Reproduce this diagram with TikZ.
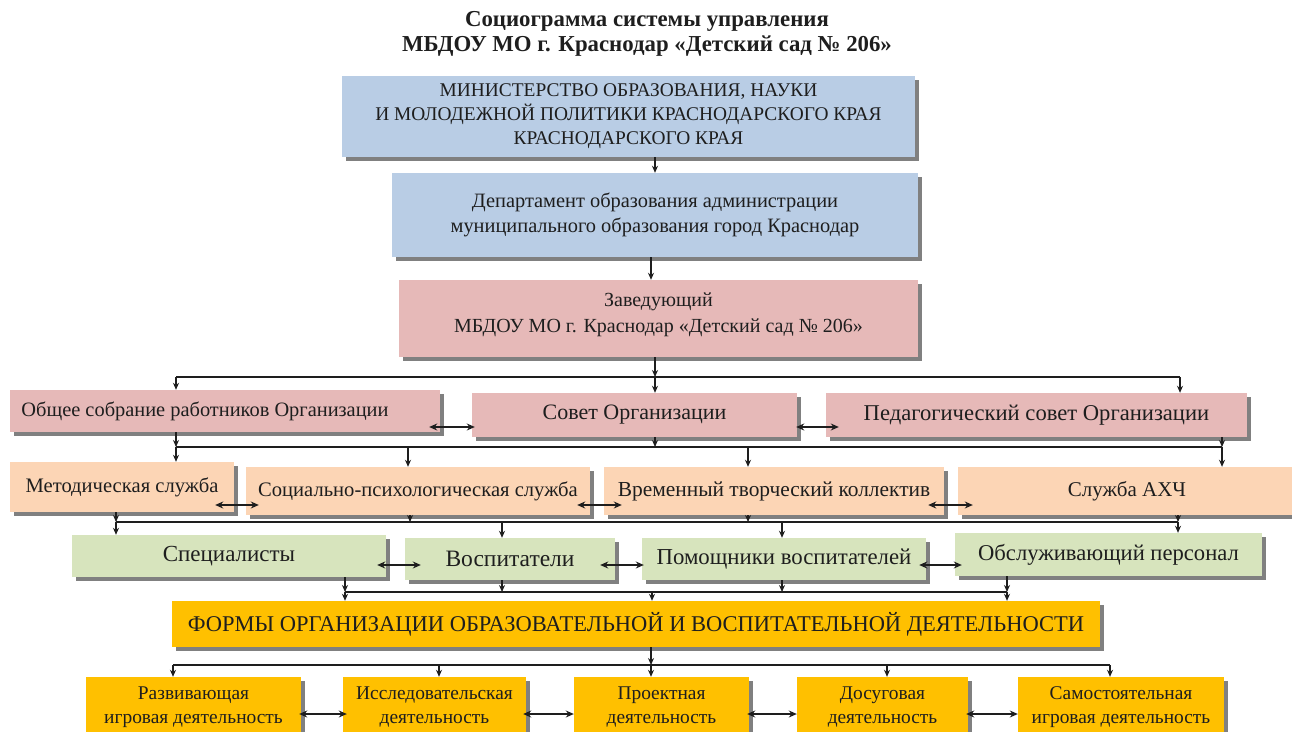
\documentclass[tikz,border=0pt]{standalone}
\usepackage{fontspec}
\setmainfont{Liberation Serif}
\usetikzlibrary{arrows.meta,shadows}
\definecolor{cblue}{HTML}{B9CDE5}
\definecolor{cpink}{HTML}{E6B9B8}
\definecolor{cpeach}{HTML}{FCD5B5}
\definecolor{cgreen}{HTML}{D7E4BD}
\definecolor{corange}{HTML}{FFC000}
\definecolor{ctext}{HTML}{1E1E1E}
\newcommand\fs[2]{\fontsize{#1}{#2}\selectfont}
\tikzset{
  box/.style={inner sep=0pt, align=center, text=ctext,
    drop shadow={shadow xshift=4pt,shadow yshift=-4pt,fill=black!50,opacity=1}},
  bluebox/.style={box, fill=cblue},
  pinkbox/.style={box, fill=cpink},
  peachbox/.style={box, fill=cpeach},
  greenbox/.style={box, fill=cgreen},
  orangebox/.style={box, fill=corange},
  conn/.style={line width=1.3pt, draw=ctext},
  arr/.style={conn, -{Stealth[length=7pt,width=6pt]}},
  dbl/.style={conn, {Stealth[length=8pt,width=7pt]}-{Stealth[length=8pt,width=7pt]}},
}
\newcommand\bx[7]{\node[#6, minimum width={#4pt-#2pt}, minimum height={#5pt-#3pt}] (#1) at ({(#2+#4)/2},{(#3+#5)/2}) {#7};}
\begin{document}
\begin{tikzpicture}[x=1pt,y=-1pt]
\useasboundingbox (0,0) rectangle (1292,731);
\node[align=center, font=\bfseries\fs{22.8}{25}, text=ctext] (title) at (647,34)
  {Социограмма системы управления\\МБДОУ МО г. Краснодар «Детский сад № 206»};
% level 1-3
\bx{min}{342}{76}{915}{157}{bluebox,font=\fs{19.4}{24}}{МИНИСТЕРСТВО ОБРАЗОВАНИЯ, НАУКИ\\И МОЛОДЕЖНОЙ ПОЛИТИКИ КРАСНОДАРСКОГО КРАЯ\\КРАСНОДАРСКОГО КРАЯ}
\bx{dep}{392}{173}{918}{257}{bluebox,font=\fs{20.4}{25}}{Департамент образования администрации\\муниципального образования город Краснодар}
\node[pinkbox, minimum width=519pt, minimum height=77pt] (zav) at (658.5,318.5) {};
\node[align=center, font=\fs{20}{26}, text=ctext, inner sep=0pt] (zavt) at (zav.center) [yshift=4pt] {Заведующий\\МБДОУ МО г. Краснодар «Детский сад № 206»};
% row 2
\bx{ob}{10}{390}{440}{432}{pinkbox,font=\fs{20.4}{24}}{Общее собрание работников Организации\hspace*{40pt}}
\bx{sov}{472}{393}{797}{437}{pinkbox,font=\fs{22}{24}}{Совет Организации}
\bx{ped}{826}{393}{1247}{437}{pinkbox,font=\fs{22.6}{24}}{Педагогический совет Организации}
% row 3
\bx{met}{10}{462}{234}{512}{peachbox,font=\fs{20.6}{24}}{Методическая служба}
\bx{soc}{246}{467}{590}{515}{peachbox,font=\fs{20.6}{24}}{Социально-психологическая служба}
\bx{vr}{604}{467}{944}{515}{peachbox,font=\fs{21.4}{24}}{Временный творческий коллектив}
\bx{axch}{958}{467}{1296}{515}{peachbox,font=\fs{21}{24}}{Служба АХЧ}
% row 4
\bx{spec}{72}{535}{386}{577}{greenbox,font=\fs{23}{24}}{Специалисты}
\bx{vosp}{405}{538}{615}{580}{greenbox,font=\fs{23.5}{24}}{Воспитатели}
\bx{pom}{642}{538}{926}{580}{greenbox,font=\fs{22.8}{24}}{Помощники воспитателей}
\bx{obs}{955}{533}{1262}{576}{greenbox,font=\fs{22.6}{24}}{Обслуживающий персонал}
% row 5
\bx{forms}{172}{601}{1100}{647}{orangebox,font=\fs{22.5}{24}}{ФОРМЫ ОРГАНИЗАЦИИ ОБРАЗОВАТЕЛЬНОЙ И ВОСПИТАТЕЛЬНОЙ ДЕЯТЕЛЬНОСТИ}
% row 6
\bx{raz}{86}{677}{301}{738}{orangebox,font=\fs{19.4}{24}}{Развивающая\\игровая деятельность}
\bx{isl}{343}{677}{526}{738}{orangebox,font=\fs{19.4}{24}}{Исследовательская\\деятельность}
\bx{pro}{574}{677}{749}{738}{orangebox,font=\fs{19.4}{24}}{Проектная\\деятельность}
\bx{dos}{797}{677}{968}{738}{orangebox,font=\fs{19.4}{24}}{Досуговая\\деятельность}
\bx{sam}{1018}{677}{1224}{738}{orangebox,font=\fs{19.4}{24}}{Самостоятельная\\игровая деятельность}

% top arrows
\draw[arr] (min.south -| 655,0) -- (dep.north -| 655,0);
\draw[arr] (dep.south -| 651,0) -- (zav.north -| 651,0);

% bus 1
\coordinate (b1l) at (176,377); \coordinate (b1c) at (655,377); \coordinate (b1r) at (1180,377);
\draw[conn] (b1l) -- (b1r);
\draw[arr] (zav.south -| b1c) -- (b1c);
\draw[arr] (b1l) -- (b1l |- ob.north);
\draw[arr] (b1c) -- (b1c |- sov.north);
\draw[arr] (b1r) -- (b1r |- ped.north);
\draw[dbl, shorten <=-11pt, shorten >=-3pt] (ob.east |- 0,427) -- (sov.west |- 0,427);
\draw[dbl, shorten <=-1pt, shorten >=-13pt] (sov.east |- 0,427) -- (ped.west |- 0,427);

% bus 2
\coordinate (b2l) at (176,447); \coordinate (b2a) at (408,447); \coordinate (b2c) at (655,447);
\coordinate (b2b) at (748,447); \coordinate (b2r) at (1222,447);
\draw[conn] (b2l) -- (b2r);
\draw[arr] (ob.south -| b2l) -- (b2l);
\draw[arr] (sov.south -| b2c) -- (b2c);
\draw[arr] (ped.south -| b2r) -- (b2r);
\draw[arr] (b2l) -- (b2l |- met.north);
\draw[arr] (b2a) -- (b2a |- soc.north);
\draw[arr] (b2b) -- (b2b |- vr.north);
\draw[arr] (b2r) -- (b2r |- axch.north);
\draw[dbl, shorten <=-19pt, shorten >=-13pt] (met.east |- 0,505) -- (soc.west |- 0,505);
\draw[dbl, shorten <=-13pt, shorten >=-18pt] (soc.east |- 0,505) -- (vr.west |- 0,505);
\draw[dbl, shorten <=-16pt, shorten >=-15pt] (vr.east |- 0,505) -- (axch.west |- 0,505);

% bus 3
\coordinate (b3l) at (116,522); \coordinate (b3a) at (410,522); \coordinate (b3b) at (502,522);
\coordinate (b3c) at (748,522); \coordinate (b3d) at (782,522); \coordinate (b3r) at (1178,522);
\draw[conn] (b3l) -- (b3r);
\draw[arr] (met.south -| b3l) -- (b3l);
\draw[arr] (soc.south -| b3a) -- (b3a);
\draw[arr] (vr.south -| b3c) -- (b3c);
\draw[arr] (axch.south -| b3r) -- (b3r);
\draw[arr] (b3l) -- (b3l |- spec.north);
\draw[arr] (b3b) -- (b3b |- vosp.north);
\draw[arr] (b3d) -- (b3d |- pom.north);
\draw[arr] (b3r) -- (b3r |- obs.north);
\draw[dbl, shorten <=-9pt, shorten >=-16pt] (spec.east |- 0,565) -- (vosp.west |- 0,565);
\draw[dbl, shorten <=-15pt, shorten >=-2pt] (vosp.east |- 0,565) -- (pom.west |- 0,565);
\draw[dbl, shorten <=-7pt, shorten >=-7pt] (pom.east |- 0,565) -- (obs.west |- 0,565);

% bus 4
\coordinate (b4l) at (345,592); \coordinate (b4a) at (502,592); \coordinate (b4c) at (652,592);
\coordinate (b4b) at (782,592); \coordinate (b4r) at (1007,592);
\draw[conn] (b4l) -- (b4r);
\draw[arr] (spec.south -| b4l) -- (b4l);
\draw[arr] (vosp.south -| b4a) -- (b4a);
\draw[arr] (pom.south -| b4b) -- (b4b);
\draw[arr] (obs.south -| b4r) -- (b4r);
\draw[arr] (b4l) -- (b4l |- forms.north);
\draw[arr] (b4c) -- (b4c |- forms.north);
\draw[arr] (b4r) -- (b4r |- forms.north);

% bus 5
\coordinate (b5l) at (173,665); \coordinate (b5a) at (439,665); \coordinate (b5c) at (651,665);
\coordinate (b5b) at (887,665); \coordinate (b5r) at (1110,665);
\draw[conn] (b5l) -- (b5r);
\draw[arr] (forms.south -| b5c) -- (b5c);
\draw[arr] (b5l) -- (b5l |- raz.north);
\draw[arr] (b5a) -- (b5a |- isl.north);
\draw[arr] (b5c) -- (b5c |- pro.north);
\draw[arr] (b5b) -- (b5b |- dos.north);
\draw[arr] (b5r) -- (b5r |- sam.north);
\draw[dbl, shorten <=-2pt, shorten >=-4pt] (raz.east |- 0,714) -- (isl.west |- 0,714);
\draw[dbl, shorten <=-3pt] (isl.east |- 0,714) -- (pro.west |- 0,714);
\draw[dbl, shorten <=-2pt] (pro.east |- 0,714) -- (dos.west |- 0,714);
\draw[dbl, shorten <=-2pt] (dos.east |- 0,714) -- (sam.west |- 0,714);
\end{tikzpicture}
\end{document}
